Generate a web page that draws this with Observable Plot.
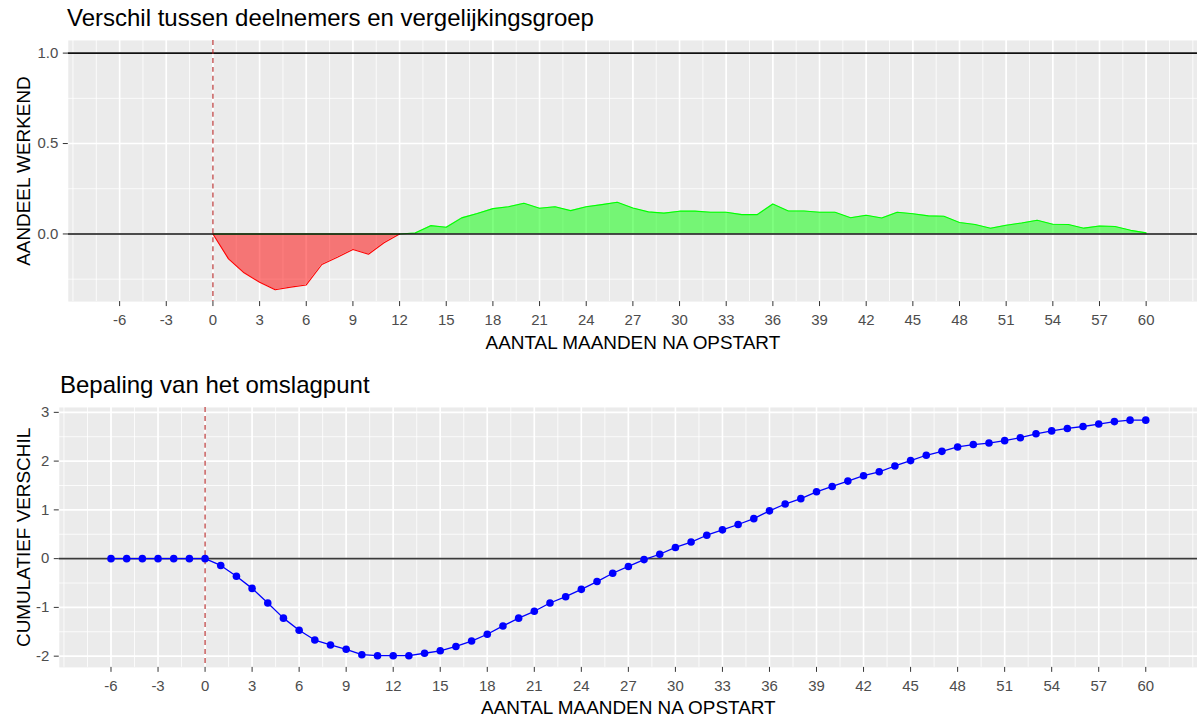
<!DOCTYPE html>
<html><head><meta charset="utf-8">
<script src="https://cdn.jsdelivr.net/npm/d3@7"></script>
<script src="https://cdn.jsdelivr.net/npm/@observablehq/plot@0.6"></script>
<style>
html,body{margin:0;padding:0;background:#fff;overflow:hidden;}
#wrap{position:relative;width:1197px;height:718px;overflow:hidden;font-family:"Liberation Sans",Arial,sans-serif;}
.title{position:absolute;font-size:24px;line-height:24px;color:#000;white-space:nowrap;}
#top,#bottom{position:absolute;left:0;}
#top{top:30px;}
#bottom{top:400px;}
</style></head><body>
<div id="wrap">
  <div class="title" style="left:67px;top:6px">Verschil tussen deelnemers en vergelijkingsgroep</div>
  <div class="title" style="left:60px;top:373px">Bepaling van het omslagpunt</div>
  <div id="top"></div>
  <div id="bottom"></div>
</div>
<script>
// ---- data ----
const topMonths = d3.range(0, 61);
const topDiff = [0, -0.138, -0.215, -0.267, -0.309, -0.294, -0.282, -0.169, -0.129, -0.086,
  -0.112, -0.049, 0, 0.005, 0.046, 0.037, 0.089, 0.113, 0.14, 0.15,
  0.17, 0.142, 0.15, 0.129, 0.15, 0.162, 0.175, 0.144, 0.122, 0.115,
  0.126, 0.126, 0.12, 0.12, 0.107, 0.107, 0.166, 0.127, 0.127, 0.12,
  0.12, 0.09, 0.103, 0.088, 0.12, 0.112, 0.1, 0.098, 0.063, 0.052,
  0.032, 0.048, 0.061, 0.076, 0.054, 0.052, 0.032, 0.044, 0.041, 0.02, 0.006];
const cumMonths = d3.range(-6, 61);
const cumValues = [0, 0, 0, 0, 0, 0, 0,
  -0.14, -0.36, -0.61, -0.91, -1.22, -1.47, -1.67, -1.77, -1.86, -1.97,
  -1.99, -1.99, -1.99, -1.94, -1.89, -1.80, -1.69, -1.55, -1.38, -1.22,
  -1.08, -0.91, -0.78, -0.63, -0.47, -0.30, -0.16, -0.02, 0.09, 0.23,
  0.34, 0.48, 0.59, 0.70, 0.82, 0.98, 1.12, 1.23, 1.37, 1.48,
  1.59, 1.70, 1.78, 1.90, 2.01, 2.12, 2.20, 2.29, 2.34, 2.37,
  2.42, 2.48, 2.56, 2.62, 2.67, 2.71, 2.76, 2.81, 2.84, 2.84];
const xTicks = [-6, -3, 0, 3, 6, 9, 12, 15, 18, 21, 24, 27, 30, 33, 36, 39, 42, 45, 48, 51, 54, 57, 60];
const xMinor = d3.range(-9, 63.1, 1.5);
const topYTicks = [0, 0.5, 1];
const topYMinor = [-0.25, 0.25, 0.75];
const topRefLines = [0, 1];
const cumYTicks = [-2, -1, 0, 1, 2, 3];
const cumYMinor = [-1.5, -0.5, 0.5, 1.5, 2.5];
const startMonth = [0];
const xTitle = "AANTAL MAANDEN NA OPSTART";
const topYTitle = "AANDEEL WERKEND";
const cumYTitle = "CUMULATIEF VERSCHIL";

// ---- shared ----
const font = "'Liberation Sans', Arial, sans-serif";
const xDomain = [-9.3, 63.3];
const grid = (fn, ticks, w) => fn(ticks, {stroke: "#fff", strokeOpacity: 1, strokeWidth: w});
const axisOpts = {tickSize: 5, fontSize: 15, fill: "#4D4D4D", stroke: "#333", label: null};

const topData = topMonths.map((m, i) => ({m, v: topDiff[i]}));
const cumData = cumMonths.map((m, i) => ({m, v: cumValues[i]}));

const topPlot = Plot.plot({
  width: 1201, height: 330,
  marginTop: 10, marginBottom: 58, marginLeft: 68, marginRight: 0,
  style: {fontFamily: font, background: "transparent", overflow: "visible"},
  x: {domain: xDomain},
  y: {domain: [-0.374, 1.07]},
  marks: [
    Plot.frame({fill: "#EBEBEB", stroke: "none"}),
    grid(Plot.gridX, xMinor, 0.8),
    grid(Plot.gridY, topYMinor, 0.8),
    grid(Plot.gridX, xTicks, 1.6),
    grid(Plot.gridY, topYTicks, 1.6),
    Plot.areaY(topData, {x: "m", y: d => Math.max(d.v, 0), fill: "#00FF00", fillOpacity: 0.5}),
    Plot.areaY(topData, {x: "m", y: d => Math.min(d.v, 0), fill: "#FF0000", fillOpacity: 0.5}),
    Plot.lineY(topData.filter(d => d.v >= 0), {x: "m", y: "v", stroke: "#00FF00", strokeWidth: 1.1}),
    Plot.lineY(topData.filter(d => d.v <= 0), {x: "m", y: "v", stroke: "#FF0000", strokeWidth: 1.1}),
    Plot.ruleY(topRefLines, {stroke: "#111", strokeWidth: 1.6}),
    Plot.ruleX(startMonth, {stroke: "#B22222", strokeWidth: 1.1, strokeDasharray: "5,4"}),
    Plot.axisX(xTicks, {...axisOpts, tickPadding: 8, tickFormat: d => String(d)}),
    Plot.axisY(topYTicks, {...axisOpts, tickPadding: 5, tickFormat: d3.format(".1f")}),
    Plot.text([xTitle], {text: d => d, frameAnchor: "bottom", lineAnchor: "bottom", dy: 48, fontSize: 19, fill: "#000"}),
    Plot.text([topYTitle], {text: d => d, frameAnchor: "left", textAnchor: "middle", rotate: -90, lineAnchor: "bottom", dx: -38, fontSize: 19, fill: "#000"})
  ]
});
document.getElementById("top").appendChild(topPlot);

const cumPlot = Plot.plot({
  width: 1202, height: 318,
  marginTop: 7, marginBottom: 50, marginLeft: 59, marginRight: 0,
  style: {fontFamily: font, background: "transparent", overflow: "visible"},
  x: {domain: xDomain},
  y: {domain: [-2.23, 3.1]},
  marks: [
    Plot.frame({fill: "#EBEBEB", stroke: "none"}),
    grid(Plot.gridX, xMinor, 0.8),
    grid(Plot.gridY, cumYMinor, 0.8),
    grid(Plot.gridX, xTicks, 1.6),
    grid(Plot.gridY, cumYTicks, 1.6),
    Plot.ruleY([0], {stroke: "#3a3a3a", strokeWidth: 1.6}),
    Plot.ruleX(startMonth, {stroke: "#B22222", strokeWidth: 1.1, strokeDasharray: "5,4"}),
    Plot.lineY(cumData, {x: "m", y: "v", stroke: "#0000FF", strokeWidth: 1.3}),
    Plot.dot(cumData, {x: "m", y: "v", r: 3.8, fill: "#0000FF", stroke: "none"}),
    Plot.axisX(xTicks, {...axisOpts, tickPadding: 8, tickFormat: d => String(d)}),
    Plot.axisY(cumYTicks, {...axisOpts, tickPadding: 5, tickFormat: d => String(d)}),
    Plot.text([xTitle], {text: d => d, frameAnchor: "bottom", lineAnchor: "bottom", dy: 47, fontSize: 19, fill: "#000"}),
    Plot.text([cumYTitle], {text: d => d, frameAnchor: "left", textAnchor: "middle", rotate: -90, lineAnchor: "bottom", dx: -29, fontSize: 19, fill: "#000"})
  ]
});
document.getElementById("bottom").appendChild(cumPlot);
</script>
</body></html>
